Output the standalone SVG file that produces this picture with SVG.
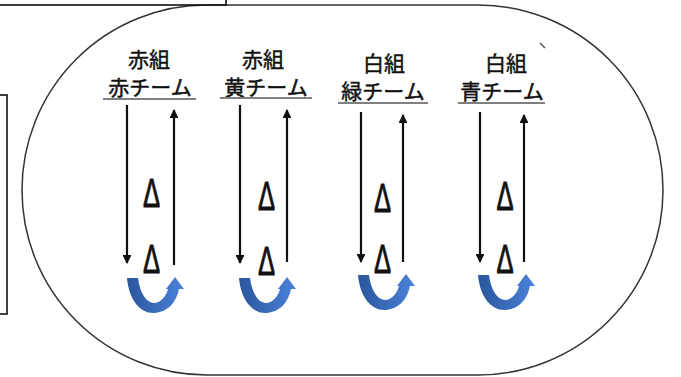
<svg xmlns="http://www.w3.org/2000/svg" width="681" height="377" viewBox="0 0 681 377">
<style>
.frame{fill:none;stroke:#111;stroke-width:1.6}
.oval{fill:#fff;stroke:#333;stroke-width:1.5}
.t{font-family:"Noto Sans CJK JP","Noto Sans CJK SC",sans-serif;font-size:21px;font-weight:normal;fill:#111;stroke:#111;stroke-width:0.45;text-anchor:middle}
.ul{stroke:#808080;stroke-width:2}
.ar{stroke:#111;stroke-width:2.2;fill:none;marker-end:url(#ah)}
.d{font-family:"Liberation Sans",Arial,sans-serif;font-weight:normal;font-size:40px;fill:#111;stroke:#111;stroke-width:0.9;text-anchor:middle}
.u{fill:url(#bg)}
</style>
<defs>
<marker id="ah" viewBox="0 0 10 10" refX="9" refY="5" markerWidth="4.2" markerHeight="4" orient="auto" markerUnits="strokeWidth">
<path d="M0,0 L10,5 L0,10 Z" fill="#111"/>
</marker>
<linearGradient id="bg" x1="0" y1="0" x2="1" y2="0">
<stop offset="0" stop-color="#2A569C"/>
<stop offset="1" stop-color="#4A82DA"/>
</linearGradient>
<path id="uarr" d="M127,278 L138,278 C140,294 147,303 154,303 C160,303 166,297 168,289 L166,289 L175,277 L184,289 L179,289 C176,304 166,313 153,313 C141,313 129,301 127,278 Z"/>
</defs>
<rect x="22" y="5" width="641" height="370" rx="185" ry="185" class="oval"/>
<rect x="-2" y="-6" width="228" height="11" class="frame"/>
<rect x="-2" y="95" width="9" height="219" class="frame"/>
<line x1="540" y1="43" x2="545" y2="48" stroke="#444" stroke-width="1.2"/>
<g id="team1">
<text class="t" x="149" y="67">赤組</text>
<text class="t" x="150" y="95">赤チーム</text>
<line class="ul" x1="103" y1="99" x2="196" y2="99"/>
<text class="d" transform="translate(151.5,207) scale(0.64,1)">Δ</text>
<text class="d" transform="translate(151.5,273) scale(0.64,1)">Δ</text>
<use href="#uarr" class="u"/>
</g>
<g id="team2">
<text class="t" x="263" y="67">赤組</text>
<text class="t" x="266" y="95">黄チーム</text>
<line class="ul" x1="220" y1="98" x2="312" y2="98"/>
<text class="d" transform="translate(266.5,210) scale(0.64,1)">Δ</text>
<text class="d" transform="translate(266.5,275) scale(0.64,1)">Δ</text>
<use href="#uarr" class="u" transform="translate(112,0)"/>
</g>
<g id="team3">
<text class="t" x="384" y="71">白組</text>
<text class="t" x="383" y="99">緑チーム</text>
<line class="ul" x1="338" y1="103" x2="428" y2="103"/>
<text class="d" transform="translate(382.5,212) scale(0.64,1)">Δ</text>
<text class="d" transform="translate(382.5,273) scale(0.64,1)">Δ</text>
<use href="#uarr" class="u" transform="translate(231,-3)"/>
</g>
<g id="team4">
<text class="t" x="506" y="71">白組</text>
<text class="t" x="502" y="99">青チーム</text>
<line class="ul" x1="458" y1="103" x2="545" y2="103"/>
<text class="d" transform="translate(505,210) scale(0.64,1)">Δ</text>
<text class="d" transform="translate(505,273) scale(0.64,1)">Δ</text>
<use href="#uarr" class="u" transform="translate(351,-3)"/>
</g>
<g id="connectors">
<line class="ar" x1="127" y1="105" x2="127" y2="263"/>
<line class="ar" x1="174" y1="265" x2="174" y2="110"/>
<line class="ar" x1="240" y1="105" x2="240" y2="263"/>
<line class="ar" x1="287" y1="262" x2="287" y2="110"/>
<line class="ar" x1="361" y1="112" x2="361" y2="262"/>
<line class="ar" x1="403" y1="262" x2="403" y2="115"/>
<line class="ar" x1="480" y1="112" x2="480" y2="262"/>
<line class="ar" x1="524" y1="262" x2="524" y2="115"/>
</g>
</svg>
